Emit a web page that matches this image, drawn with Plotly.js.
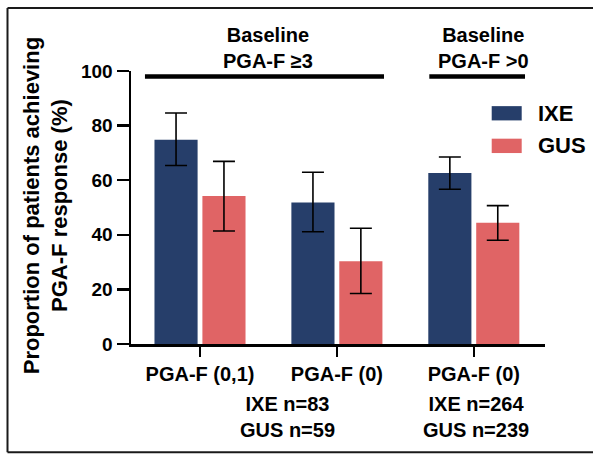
<!DOCTYPE html>
<html>
<head>
<meta charset="utf-8">
<script src="https://cdn.plot.ly/plotly-3.0.1.min.js"></script>
<style>html,body{margin:0;padding:0;background:#fff;}#chart{width:593px;height:454px;}</style>
</head>
<body>
<div id="chart"></div>
<script>
// ---- data ----
const categories = ["PGA-F (0,1)", "PGA-F (0)", "PGA-F (0)"];
const seriesNames = ["IXE", "GUS"];
const ixeValues = [74.8, 51.8, 62.6];
const ixeUpper  = [84.6, 62.9, 68.5];
const ixeLower  = [65.4, 41.1, 56.7];
const gusValues = [54.2, 30.3, 44.4];
const gusUpper  = [66.9, 42.4, 50.7];
const gusLower  = [41.4, 18.5, 38.0];
const yTicks = [0, 20, 40, 60, 80, 100];
const groupTitles = ["Baseline<br>PGA-F \u22653", "Baseline<br>PGA-F >0"];
const nLabels = ["IXE n=83<br>GUS n=59", "IXE n=264<br>GUS n=239"];
const yTitle = "Proportion of patients achieving<br>PGA-F response (%)";

// ---- layout helpers ----
const W = 593, H = 454;
const M = {l: 131, r: 48, t: 70.5, b: 110};
const PW = W - M.l - M.r, PH = H - M.t - M.b;
const px = x => (x - M.l) / PW;
const py = y => (H - M.b - y) / PH;
const FONT = "Liberation Sans, Arial, Helvetica, sans-serif";
const colors = ["#263e6a", "#e06465"];

const xs = categories.map((c, i) => i);
function trace(name, vals, up, lo, color) {
  return {
    type: "bar", name: name, x: xs, y: vals,
    marker: {color: color, line: {width: 0}},
    error_y: {type: "data", symmetric: false,
      array: up.map((u, i) => u - vals[i]),
      arrayminus: lo.map((l, i) => vals[i] - l),
      color: "#000", thickness: 1.6, width: 11},
    showlegend: false, hoverinfo: "skip"
  };
}
const data = [
  trace(seriesNames[0], ixeValues, ixeUpper, ixeLower, colors[0]),
  trace(seriesNames[1], gusValues, gusUpper, gusLower, colors[1])
];

const txt = (size) => ({family: FONT, size: size, color: "#000", weight: "bold"});

const annotations = [
  {text: groupTitles[0], x: 0.5, xref: "x", y: py(47.5), yref: "paper", xanchor: "center", yanchor: "middle", showarrow: false, font: txt(20)},
  {text: groupTitles[1], x: 2.071, xref: "x", y: py(47.5), yref: "paper", xanchor: "center", yanchor: "middle", showarrow: false, font: txt(20)},
  {text: nLabels[0], x: 0.639, xref: "x", y: py(417.4), yref: "paper", xanchor: "center", yanchor: "middle", showarrow: false, font: txt(20)},
  {text: nLabels[1], x: 2.016, xref: "x", y: py(417.4), yref: "paper", xanchor: "center", yanchor: "middle", showarrow: false, font: txt(20)},
  {text: yTitle, textangle: -90, x: px(46), xref: "paper", y: py(206), yref: "paper", xanchor: "center", yanchor: "middle", showarrow: false, font: txt(22)},
  {text: seriesNames[0], x: px(536), xref: "paper", y: py(113), yref: "paper", xanchor: "left", yanchor: "middle", showarrow: false, font: txt(22)},
  {text: seriesNames[1], x: px(536), xref: "paper", y: py(145.5), yref: "paper", xanchor: "left", yanchor: "middle", showarrow: false, font: txt(22)}
];

const frameLine = (x0, y0, x1, y1) => ({type: "line", xref: "paper", yref: "paper",
  x0: px(x0), y0: py(y0), x1: px(x1), y1: py(y1), line: {color: "#1a1a1a", width: 2}});

const shapes = [
  {type: "line", xref: "x", yref: "paper", x0: -0.402, x1: 1.344, y0: py(76), y1: py(76), line: {color: "#000", width: 4.5}},
  {type: "line", xref: "x", yref: "paper", x0: 1.675, x1: 2.374, y0: py(76), y1: py(76), line: {color: "#000", width: 4.5}},
  {type: "rect", xref: "paper", yref: "paper", x0: px(491.7), x1: px(521.7), y0: py(105.7), y1: py(120), fillcolor: colors[0], line: {width: 0}},
  {type: "rect", xref: "paper", yref: "paper", x0: px(491.7), x1: px(521.7), y0: py(138.3), y1: py(152.7), fillcolor: colors[1], line: {width: 0}},
  frameLine(7.5, 7.5, 593, 7.5),
  frameLine(7.5, 452.5, 593, 452.5),
  frameLine(7.5, 7.5, 7.5, 452.5)
];

const layout = {
  width: W, height: H,
  margin: M,
  paper_bgcolor: "#fff", plot_bgcolor: "#fff",
  font: {family: FONT, color: "#000"},
  barmode: "group", bargap: 0.3, bargroupgap: 0.1,
  showlegend: false,
  xaxis: {
    range: [-0.504, 2.52], tickvals: xs, ticktext: categories,
    showline: true, linecolor: "#000", linewidth: 2.5,
    ticks: "outside", ticklen: 10, tickwidth: 2.5, tickcolor: "#000",
    showgrid: false, zeroline: false, fixedrange: true,
    tickfont: txt(20)
  },
  yaxis: {
    range: [0, 100], tickvals: yTicks,
    showline: true, linecolor: "#000", linewidth: 2.5,
    ticks: "outside", ticklen: 12, tickwidth: 2.5, tickcolor: "#000",
    showgrid: false, zeroline: false, fixedrange: true,
    tickfont: txt(19)
  },
  annotations: annotations,
  shapes: shapes
};

Plotly.newPlot("chart", data, layout, {displayModeBar: false, staticPlot: true});
</script>
</body>
</html>
